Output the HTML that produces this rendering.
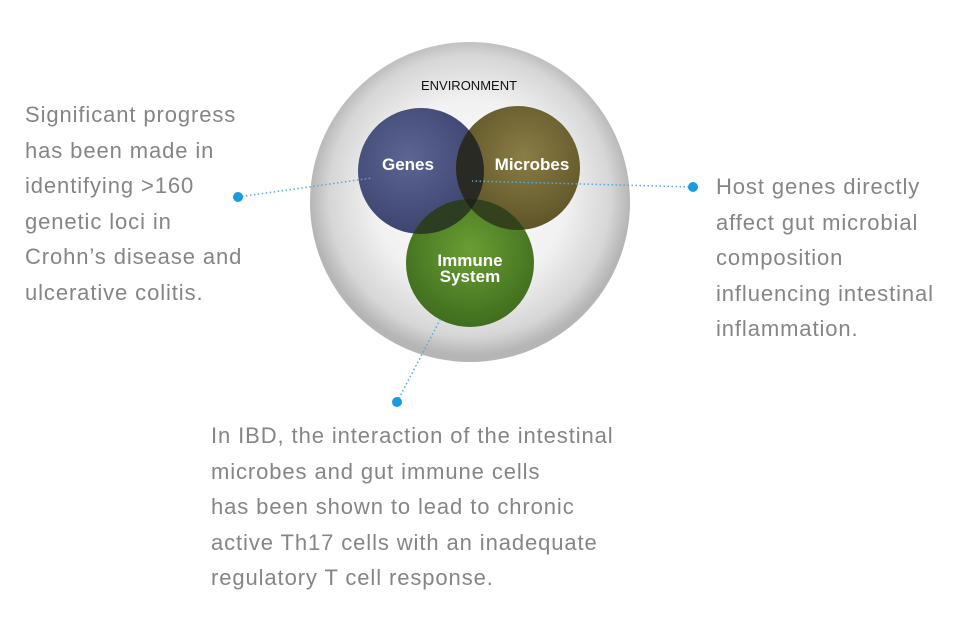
<!DOCTYPE html>
<html><head><style>
body{margin:0;width:960px;height:640px;background:#fff;overflow:hidden;position:relative;font-family:"Liberation Sans",sans-serif}
.t{position:absolute;color:#858585;font-size:22px;line-height:35.5px;letter-spacing:0.9px;white-space:nowrap}
</style></head><body>
<svg width="960" height="640" style="position:absolute;left:0;top:0">
<defs>
<radialGradient id="env" cx="50%" cy="48%" r="50%">
<stop offset="0" stop-color="#ffffff"/><stop offset="0.6" stop-color="#f1f1f1"/><stop offset="0.88" stop-color="#d6d6d6"/><stop offset="1" stop-color="#b5b5b5"/>
</radialGradient>
<radialGradient id="g1" cx="40%" cy="40%" r="60%"><stop offset="0" stop-color="#5d6592"/><stop offset="1" stop-color="#3d4470"/></radialGradient>
<radialGradient id="g2" cx="55%" cy="40%" r="60%"><stop offset="0" stop-color="#8a7d45"/><stop offset="1" stop-color="#5e5428"/></radialGradient>
<radialGradient id="g3" cx="50%" cy="40%" r="60%"><stop offset="0" stop-color="#6a9e34"/><stop offset="1" stop-color="#3f6d1e"/></radialGradient>
<clipPath id="cG"><circle cx="421" cy="171" r="63"/></clipPath>
<clipPath id="cM"><circle cx="518" cy="168" r="62"/></clipPath>
</defs>
<circle cx="470" cy="202" r="160" fill="url(#env)"/>
<circle cx="421" cy="171" r="63" fill="url(#g1)"/>
<circle cx="518" cy="168" r="62" fill="url(#g2)"/>
<circle cx="470" cy="263" r="64" fill="url(#g3)"/>
<g clip-path="url(#cG)"><circle cx="518" cy="168" r="62" fill="#2a2a24"/><circle cx="470" cy="263" r="64" fill="#2c3d22"/></g>
<g clip-path="url(#cM)"><circle cx="470" cy="263" r="64" fill="#33421c"/></g>
<g clip-path="url(#cG)"><g clip-path="url(#cM)"><circle cx="470" cy="263" r="64" fill="#1e2418"/></g></g>
<g stroke="#5aa8d6" stroke-width="1.5" stroke-dasharray="1.5 2.5" fill="none">
<line x1="238" y1="197" x2="372" y2="178"/>
<line x1="693" y1="187" x2="472" y2="181"/>
<line x1="397" y1="402" x2="441" y2="318"/>
</g>
<g fill="#1a9be0"><circle cx="238" cy="197" r="5"/><circle cx="693" cy="187" r="5"/><circle cx="397" cy="402" r="5"/></g>
<g font-family="Liberation Sans,sans-serif" font-weight="bold" fill="#fff" text-anchor="middle" font-size="17">
<text x="408" y="170">Genes</text>
<text x="532" y="170">Microbes</text>
<text x="470" y="266">Immune</text>
<text x="470" y="282">System</text>
</g>
<text x="469" y="90" font-family="Liberation Sans,sans-serif" font-size="13" fill="#111" text-anchor="middle">ENVIRONMENT</text>
</svg>
<div class="t" style="left:25px;top:97px">Significant progress<br>has been made in<br>identifying &gt;160<br>genetic loci in<br>Crohn’s disease and<br>ulcerative colitis.</div>
<div class="t" style="left:716px;top:169px">Host genes directly<br>affect gut microbial<br>composition<br>influencing intestinal<br>inflammation.</div>
<div class="t" style="left:211px;top:418px">In IBD, the interaction of the intestinal<br>microbes and gut immune cells<br>has been shown to lead to chronic<br>active Th17 cells with an inadequate<br>regulatory T cell response.</div>
</body></html>
